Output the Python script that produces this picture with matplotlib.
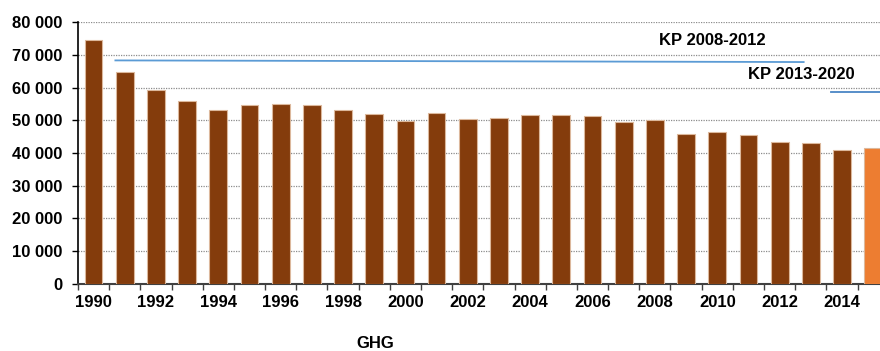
import numpy as np
import matplotlib.pyplot as plt
from matplotlib.ticker import FuncFormatter

plt.rcParams['font.family'] = ['Liberation Sans', 'DejaVu Sans']
plt.rcParams['font.weight'] = 'bold'

# Emissions by year (kt CO2 eq.)
years = list(range(1990, 2016))
ghg = [74.4, 64.8, 59.4, 56.0, 53.3, 54.6, 54.9, 54.7, 53.1, 51.8,
       49.9, 52.3, 50.3, 50.8, 51.5, 51.5, 51.3, 49.5, 50.2, 45.7,
       46.5, 45.5, 43.3, 43.1, 40.9, 41.5]
ghg = [v * 1000 for v in ghg]

# Kyoto targets
kp1_years = [1990.7, 2012.77]
kp1_values = [68300, 67800]
kp2_years = [2013.66, 2020]
kp2_values = [58700, 58700]

brown = '#843c0c'
orange = '#ed7d31'
blue = '#5b9bd5'
fs = 12

fig = plt.figure(figsize=(8.8, 3.51), dpi=100)
ax = fig.add_axes([0.0886, 0.191, 0.9114 + 0.01, 0.746])

x = np.arange(len(years))
colors = [brown] * (len(years) - 1) + [orange]
ax.bar(x, ghg, width=0.57, color=colors, edgecolor='#dcb89c', linewidth=0.8, zorder=3)

ax.plot(np.array(kp1_years) - 1990, kp1_values, color=blue, lw=1.3, zorder=4)
ax.plot(np.array(kp2_years) - 1990, kp2_values, color='#4a86c5', lw=1.3, zorder=4)
ax.text(19.84, 74400, 'KP 2008-2012', fontsize=fs, fontweight='bold',
        ha='center', va='center')
ax.text(22.71, 64100, 'KP 2013-2020', fontsize=fs, fontweight='bold',
        ha='center', va='center')

ax.set_ylim(0, 80000)
ax.set_xlim(-0.5, 25.05)
ax.set_yticks(np.arange(0, 80001, 10000))
ax.yaxis.set_major_formatter(FuncFormatter(lambda v, p: f'{int(v):,}'.replace(',', ' ')))
ax.grid(axis='y', color='#8c8c8c', linestyle=(0, (1, 1)), linewidth=0.9, zorder=0)

# ticks between categories, labels on even years
ax.set_xticks(np.arange(-0.5, 25.6, 1.0))
ax.set_xticklabels([])
ax.tick_params(axis='x', which='major', length=4, width=1, color='#404040', direction='out')
ax.set_xticks(x[::2], minor=True)
ax.set_xticklabels([str(y) for y in years[::2]], minor=True)
ax.tick_params(axis='x', which='minor', length=0, pad=8, labelsize=fs)
ax.tick_params(axis='y', length=4, width=1, labelsize=fs, pad=7)

for s in ['top', 'right']:
    ax.spines[s].set_visible(False)
ax.spines['left'].set_color('black')
ax.spines['left'].set_linewidth(1.2)
ax.spines['bottom'].set_color('#404040')
ax.spines['bottom'].set_linewidth(1.5)

fig.text(375 / 880, 1 - 344 / 351, 'GHG', fontsize=fs, fontweight='bold',
         ha='center', va='center')

fig.savefig('out.png', dpi=100)
